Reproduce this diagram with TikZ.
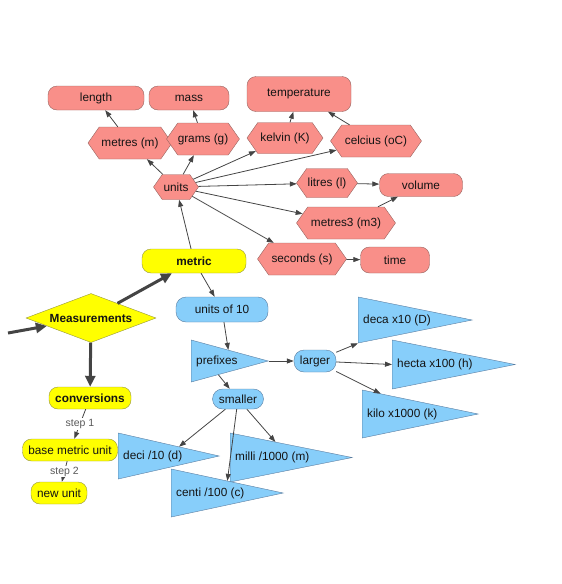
\documentclass[tikz,border=0pt]{standalone}
\usepackage{fontspec}
\setmainfont{Liberation Sans}
\usetikzlibrary{shapes.geometric,shapes.symbols,arrows.meta,positioning,calc}
\definecolor{pinkfill}{RGB}{249,143,137}
\definecolor{pinkline}{RGB}{150,100,96}
\definecolor{yelfill}{RGB}{255,255,0}
\definecolor{yelline}{RGB}{150,150,60}
\definecolor{bluefill}{RGB}{135,206,250}
\definecolor{blueline}{RGB}{90,125,160}
\definecolor{edgecol}{RGB}{68,68,68}
\definecolor{txt}{RGB}{20,20,20}
\begin{document}
\begin{tikzpicture}[x=1pt,y=-1pt,
  every node/.style={font=\fontsize{11.8}{14}\selectfont, text=txt, inner sep=0pt},
  prect/.style={rectangle, rounded corners=9pt, draw=pinkline, fill=pinkfill},
  phex/.style={signal, signal to=west and east, signal pointer angle=110, draw=pinkline, fill=pinkfill},
  yrect/.style={rectangle, rounded corners=9pt, draw=yelline, fill=yelfill},
  brect/.style={rectangle, rounded corners=10pt, draw=blueline, fill=bluefill},
  btri/.style={isosceles triangle, isosceles triangle stretches, shape border rotate=0, draw=blueline, fill=bluefill, anchor=lower side},
  tlabel/.style={anchor=west},
  conn/.style={draw=edgecol, line width=0.8pt, -{Triangle[length=7pt,width=5pt]}},
  bigconn/.style={draw=edgecol, line width=3pt, -{Triangle[length=11pt,width=10pt]}},
  steplbl/.style={fill=white, inner sep=1pt, text=black!65, font=\fontsize{10.5}{12}\selectfont}
]
\useasboundingbox (0,0) rectangle (562,584);

% pink: units side
\node[prect, minimum width=96pt, minimum height=24pt] (length) at (96,98) {length};
\node[prect, minimum width=80pt, minimum height=24pt] (mass) at (189,98) {mass};
\node[prect, minimum width=104pt, minimum height=35pt] (temp) at (299,94) {temperature};
\node[prect, minimum width=83pt, minimum height=23pt] (volume) at (421,185) {volume};
\node[prect, minimum width=69pt, minimum height=26pt] (time) at (395,260) {time};

\node[phex, minimum width=84pt, minimum height=32pt] (metres) at (130,143) {metres (m)};
\node[phex, minimum width=72pt, minimum height=32pt] (grams) at (203,139) {grams (g)};
\node[phex, minimum width=45pt, minimum height=25pt] (units) at (176,187) {units};
\node[phex, minimum width=76pt, minimum height=31pt] (kelvin) at (285,138) {kelvin (K)};
\node[phex, minimum width=91pt, minimum height=32pt] (celcius) at (376,141) {celcius (oC)};
\node[phex, minimum width=61pt, minimum height=29pt] (litres) at (327,183) {litres (l)};
\node[phex, minimum width=99pt, minimum height=32pt] (metres3) at (346,223) {metres3 (m3)};
\node[phex, minimum width=89pt, minimum height=32pt] (seconds) at (302,259) {seconds (s)};

% yellow
\node[yrect, minimum width=104pt, minimum height=24pt, font=\fontsize{11.8}{14}\selectfont\bfseries] (metric) at (194,261) {metric};
\node[diamond, aspect=2.65, draw=yelline, fill=yelfill, minimum width=130pt, minimum height=49pt, font=\fontsize{11.8}{14}\selectfont\bfseries] (meas) at (91,318) {Measurements};
\node[yrect, minimum width=82pt, minimum height=22pt, font=\fontsize{11.8}{14}\selectfont\bfseries] (conv) at (90,398) {conversions};
\node[yrect, minimum width=95pt, minimum height=22pt] (base) at (70,450) {base metric unit};
\node[yrect, minimum width=56pt, minimum height=22pt] (newunit) at (59,493) {new unit};
\coordinate (start) at (8,333);

% blue
\node[brect, minimum width=92pt, minimum height=25pt] (units10) at (222,309.5) {units of 10};
\node[brect, minimum width=42pt, minimum height=22pt] (larger) at (315,361) {larger};
\node[brect, minimum width=51pt, minimum height=20pt] (smaller) at (238,399) {smaller};

\node[btri, minimum height=77pt, minimum width=42pt] (prefixes) at (191,361) {};
\node[tlabel, right=5pt of prefixes.lower side] (prefixesT) {prefixes};
\node[btri, minimum height=114pt, minimum width=46pt] (deca) at (358,320) {};
\node[tlabel, right=5pt of deca.lower side] (decaT) {deca x10 (D)};
\node[btri, minimum height=123pt, minimum width=49pt] (hecta) at (392,364.5) {};
\node[tlabel, right=5pt of hecta.lower side] (hectaT) {hecta x100 (h)};
\node[btri, minimum height=116pt, minimum width=48pt] (kilo) at (362,414) {};
\node[tlabel, right=5pt of kilo.lower side] (kiloT) {kilo x1000 (k)};
\node[btri, minimum height=101pt, minimum width=46pt] (deci) at (118,456) {};
\node[tlabel, right=5pt of deci.lower side] (deciT) {deci /10 (d)};
\node[btri, minimum height=122pt, minimum width=49pt] (milli) at (230,457.5) {};
\node[tlabel, right=5pt of milli.lower side] (milliT) {milli /1000 (m)};
\node[btri, minimum height=112pt, minimum width=48pt] (centi) at (171,493) {};
\node[tlabel, right=5pt of centi.lower side] (centiT) {centi /100 (c)};

% connectors
\draw[conn] (units) -- (metres);
\draw[conn] (units) -- (grams);
\draw[conn] (units) -- (kelvin);
\draw[conn] (units) -- (celcius);
\draw[conn] (units) -- (litres);
\draw[conn] (units) -- (metres3);
\draw[conn] (units) -- (seconds);
\draw[conn] (metres) -- (length);
\draw[conn] (grams) -- (mass);
\draw[conn] (kelvin) -- (temp);
\draw[conn] (celcius) -- (temp);
\draw[conn] (litres) -- (volume);
\draw[conn] (metres3) -- (volume);
\draw[conn] (seconds) -- (time);
\draw[conn] (metric) -- (units);
\draw[conn] (metric) -- (units10);
\draw[conn] (units10) -- ($(prefixes.left corner)!0.48!(prefixes.apex)$);
\draw[conn] (prefixes.apex) -- (larger);
\draw[conn] (prefixes) -- (smaller);
\draw[conn] (larger) -- (deca.right corner);
\draw[conn] (larger) -- (hecta.lower side);
\draw[conn] (larger) -- ($(kilo.left corner)!0.16!(kilo.apex)$);
\draw[conn] (smaller) -- ($(deci.left corner)!0.6!(deci.apex)$);
\draw[conn] (smaller) -- ($(centi.left corner)!0.5!(centi.apex)$);
\draw[conn] (smaller) -- ($(milli.left corner)!0.37!(milli.apex)$);
\draw[bigconn] (start) -- (meas);
\draw[bigconn] (meas) -- (metric);
\draw[bigconn] (meas) -- (conv);
\draw[conn] (conv) -- node[steplbl] (s1) {step 1} (base);
\draw[conn] (base) -- node[steplbl] (s2) {step 2} (newunit);
\end{tikzpicture}
\end{document}
